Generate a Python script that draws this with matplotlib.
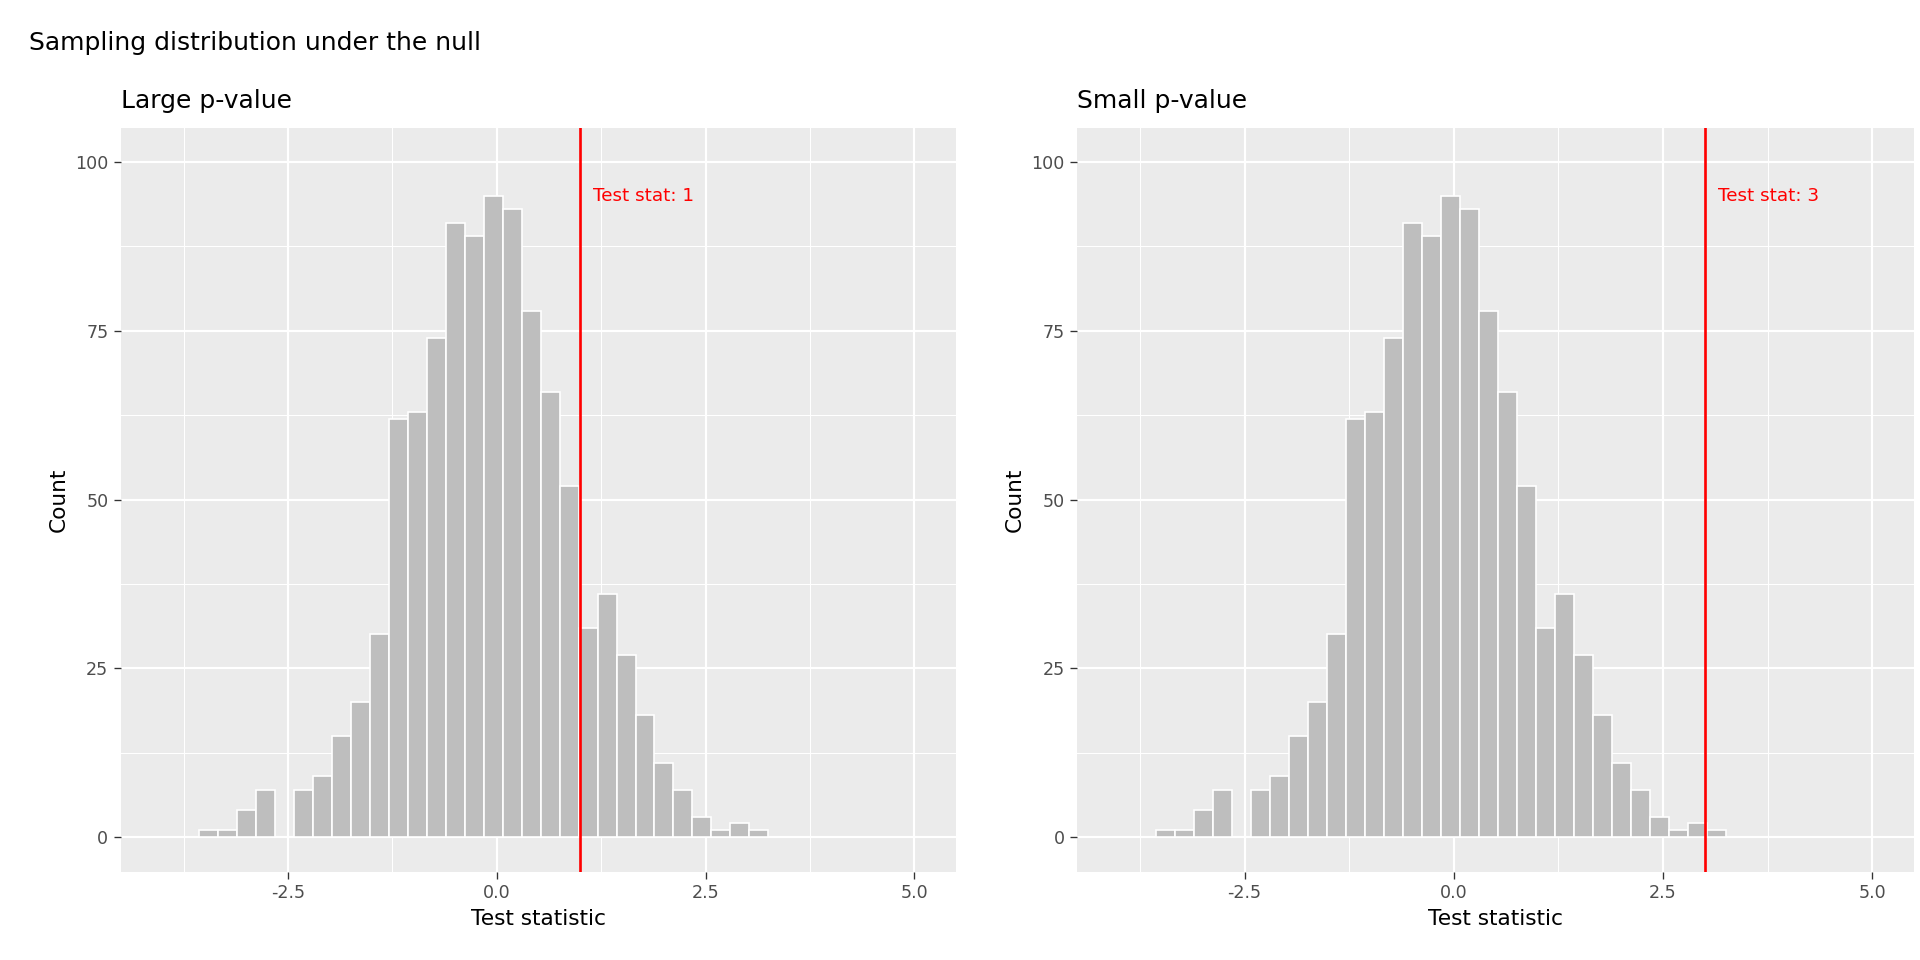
import matplotlib.pyplot as plt

# histogram of the null sampling distribution (same in both panels)
bin_start = -3.56
bin_width = 0.227
counts = [1, 1, 4, 7, 0, 7, 9, 15, 20, 30, 62, 63, 74, 91, 89, 95, 93, 78,
          66, 52, 31, 36, 27, 18, 11, 7, 3, 1, 2, 1]
panel_titles = ["Large p-value", "Small p-value"]
test_stats = [1, 3]

lefts = [bin_start + i * bin_width for i in range(len(counts))]

fig = plt.figure(figsize=(16, 8), dpi=120)
fig.text(0.015, 0.955, "Sampling distribution under the null", fontsize=15, va="center")

boxes = [[0.063, 0.092, 0.435, 0.775], [0.561, 0.092, 0.436, 0.775]]
for box, title, stat in zip(boxes, panel_titles, test_stats):
    ax = fig.add_axes(box)
    ax.set_facecolor("#EBEBEB")
    ax.set_xlim(-4.5, 5.5)
    ax.set_ylim(-5.15, 105.1)
    ax.set_xticks([-2.5, 0, 2.5, 5.0])
    ax.set_xticklabels(["-2.5", "0.0", "2.5", "5.0"])
    ax.set_yticks([0, 25, 50, 75, 100])
    ax.set_xticks([-3.75, -1.25, 1.25, 3.75], minor=True)
    ax.set_yticks([12.5, 37.5, 62.5, 87.5], minor=True)
    ax.grid(True, which="major", color="white", linewidth=1.3)
    ax.grid(True, which="minor", color="white", linewidth=0.6)
    ax.set_axisbelow(True)
    for s in ax.spines.values():
        s.set_visible(False)
    ax.tick_params(which="both", length=0)
    ax.tick_params(which="major", length=4, color="#333333", labelsize=10.5, labelcolor="#4D4D4D")
    ax.bar(lefts, counts, width=bin_width, align="edge", color="#BEBEBE",
           edgecolor="white", linewidth=1.0)
    ax.axvline(stat, color="red", linewidth=1.6)
    ax.text(stat + 0.15, 95, "Test stat: %d" % stat, color="red", fontsize=11, va="center")
    ax.set_title(title, loc="left", fontsize=15, pad=12)
    ax.set_xlabel("Test statistic", fontsize=13)
    ax.set_ylabel("Count", fontsize=13)

fig.savefig("out.png")
